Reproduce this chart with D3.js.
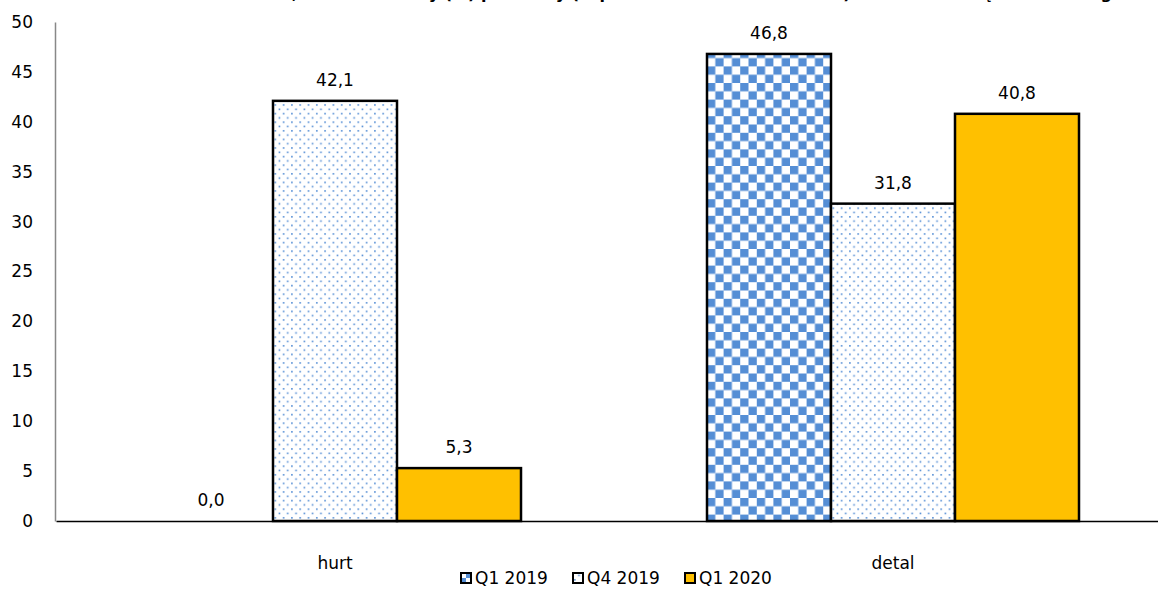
<!DOCTYPE html>
<html lang="pl">
<head>
<meta charset="UTF-8">
<title>hurt / detal</title>
<script src="https://d3js.org/d3.v7.min.js"></script>
<style>
  body { margin: 0; background: #fff; font-family: "DejaVu Sans", Verdana, sans-serif; }
  .val { font-size: 17px; fill: #000; text-anchor: middle; }
  .leg { font-size: 17px; fill: #000; }
</style>
</head>
<body>
<svg width="1158" height="610"></svg>
<script>
const categories = ["hurt", "detal"];
const seriesNames = ["Q1 2019", "Q4 2019", "Q1 2020"];
const q1_2019 = [0.0, 46.8];
const q4_2019 = [42.1, 31.8];
const q1_2020 = [5.3, 40.8];
const yTicks = [0, 5, 10, 15, 20, 25, 30, 35, 40, 45, 50];
const title = "Odsetek firm, które wskazały (%) problemy (w porównaniu do IV kwartału) z rentownością w handlu wg rodzaju";

const seriesValues = [q1_2019, q4_2019, q1_2020];
const svg = d3.select("svg");
const width = 1158, height = 610;
const margin = { left: 56, right: -14, top: 22, bottom: 89 };
const fontFam = "DejaVu Sans, Verdana, sans-serif";

// patterns
const defs = svg.append("defs");
const check = defs.append("pattern").attr("id", "check")
  .attr("patternUnits", "userSpaceOnUse").attr("width", 16.6).attr("height", 16.6);
check.append("rect").attr("width", 16.6).attr("height", 16.6).attr("fill", "#fff");
check.append("rect").attr("width", 8.3).attr("height", 8.3).attr("fill", "#558ed5");
check.append("rect").attr("x", 8.3).attr("y", 8.3).attr("width", 8.3).attr("height", 8.3).attr("fill", "#558ed5");

const dots = defs.append("pattern").attr("id", "dots")
  .attr("patternUnits", "userSpaceOnUse").attr("width", 8.3).attr("height", 8.6);
dots.append("rect").attr("width", 8.3).attr("height", 8.6).attr("fill", "#fff");
dots.append("rect").attr("x", 1).attr("y", 1).attr("width", 1.6).attr("height", 1.6).attr("fill", "#558ed5");
dots.append("rect").attr("x", 5.15).attr("y", 5.3).attr("width", 1.6).attr("height", 1.6).attr("fill", "#558ed5");

// small legend versions of the patterns
const checkS = defs.append("pattern").attr("id", "checkS")
  .attr("patternUnits", "userSpaceOnUse").attr("width", 10).attr("height", 10);
checkS.append("rect").attr("width", 10).attr("height", 10).attr("fill", "#fff");
checkS.append("rect").attr("width", 5).attr("height", 5).attr("fill", "#558ed5");
checkS.append("rect").attr("x", 5).attr("y", 5).attr("width", 5).attr("height", 5).attr("fill", "#558ed5");

const fills = ["url(#check)", "url(#dots)", "#ffc000"];
const legFills = ["url(#checkS)", "url(#dots)", "#ffc000"];

const x0 = d3.scaleBand().domain(categories)
  .range([margin.left, width - margin.right])
  .paddingInner(1 / 3).paddingOuter(1 / 6);
const x1 = d3.scaleBand().domain(seriesNames).range([0, x0.bandwidth()]);
const y = d3.scaleLinear().domain([0, 50]).range([height - margin.bottom, margin.top]);

// title (cut off at top in the original)
svg.append("text").attr("x", 680).attr("y", -1)
  .attr("text-anchor", "middle").attr("font-weight", "bold").attr("font-size", 16)
  .attr("font-family", fontFam)
  .text(title);

// y axis
const yAxis = svg.append("g").attr("transform", `translate(${margin.left - 1},0)`)
  .call(d3.axisLeft(y).tickValues(yTicks).tickSize(0).tickPadding(22))
  .attr("font-size", 17).attr("font-family", fontFam);
yAxis.select(".domain").attr("stroke", "#888").attr("stroke-width", 1.5);

// bars
const groups = svg.append("g").selectAll("g").data(categories).join("g")
  .attr("transform", d => `translate(${x0(d)},0)`);

groups.each(function (cat, ci) {
  const g = d3.select(this);
  seriesNames.forEach((s, si) => {
    const v = seriesValues[si][ci];
    if (v > 0) {
      g.append("rect")
        .attr("x", x1(s)).attr("width", x1.bandwidth())
        .attr("y", y(v)).attr("height", y(0) - y(v))
        .attr("fill", fills[si]).attr("stroke", "#000").attr("stroke-width", 2.5);
    }
    g.append("text").attr("class", "val")
      .attr("x", x1(s) + x1.bandwidth() / 2).attr("y", y(v) - 15)
      .text(d3.format(".1f")(v).replace(".", ","));
  });
});

// x axis
const xAxis = svg.append("g").attr("transform", `translate(0,${y(0)})`)
  .call(d3.axisBottom(x0).tickSize(0).tickPadding(36))
  .attr("font-size", 17).attr("font-family", fontFam);
xAxis.select(".domain").attr("stroke", "#000").attr("stroke-width", 1.5);

// legend
const legX = [461, 573, 685];
const leg = svg.append("g").selectAll("g").data(seriesNames).join("g")
  .attr("transform", (d, i) => `translate(${legX[i]},${578})`);
leg.append("rect").attr("x", 0).attr("y", -5).attr("width", 10).attr("height", 10)
  .attr("fill", (d, i) => legFills[i]).attr("stroke", "#000").attr("stroke-width", 2);
leg.append("text").attr("class", "leg").attr("x", 14).attr("y", 6).text(d => d);
</script>
</body>
</html>
